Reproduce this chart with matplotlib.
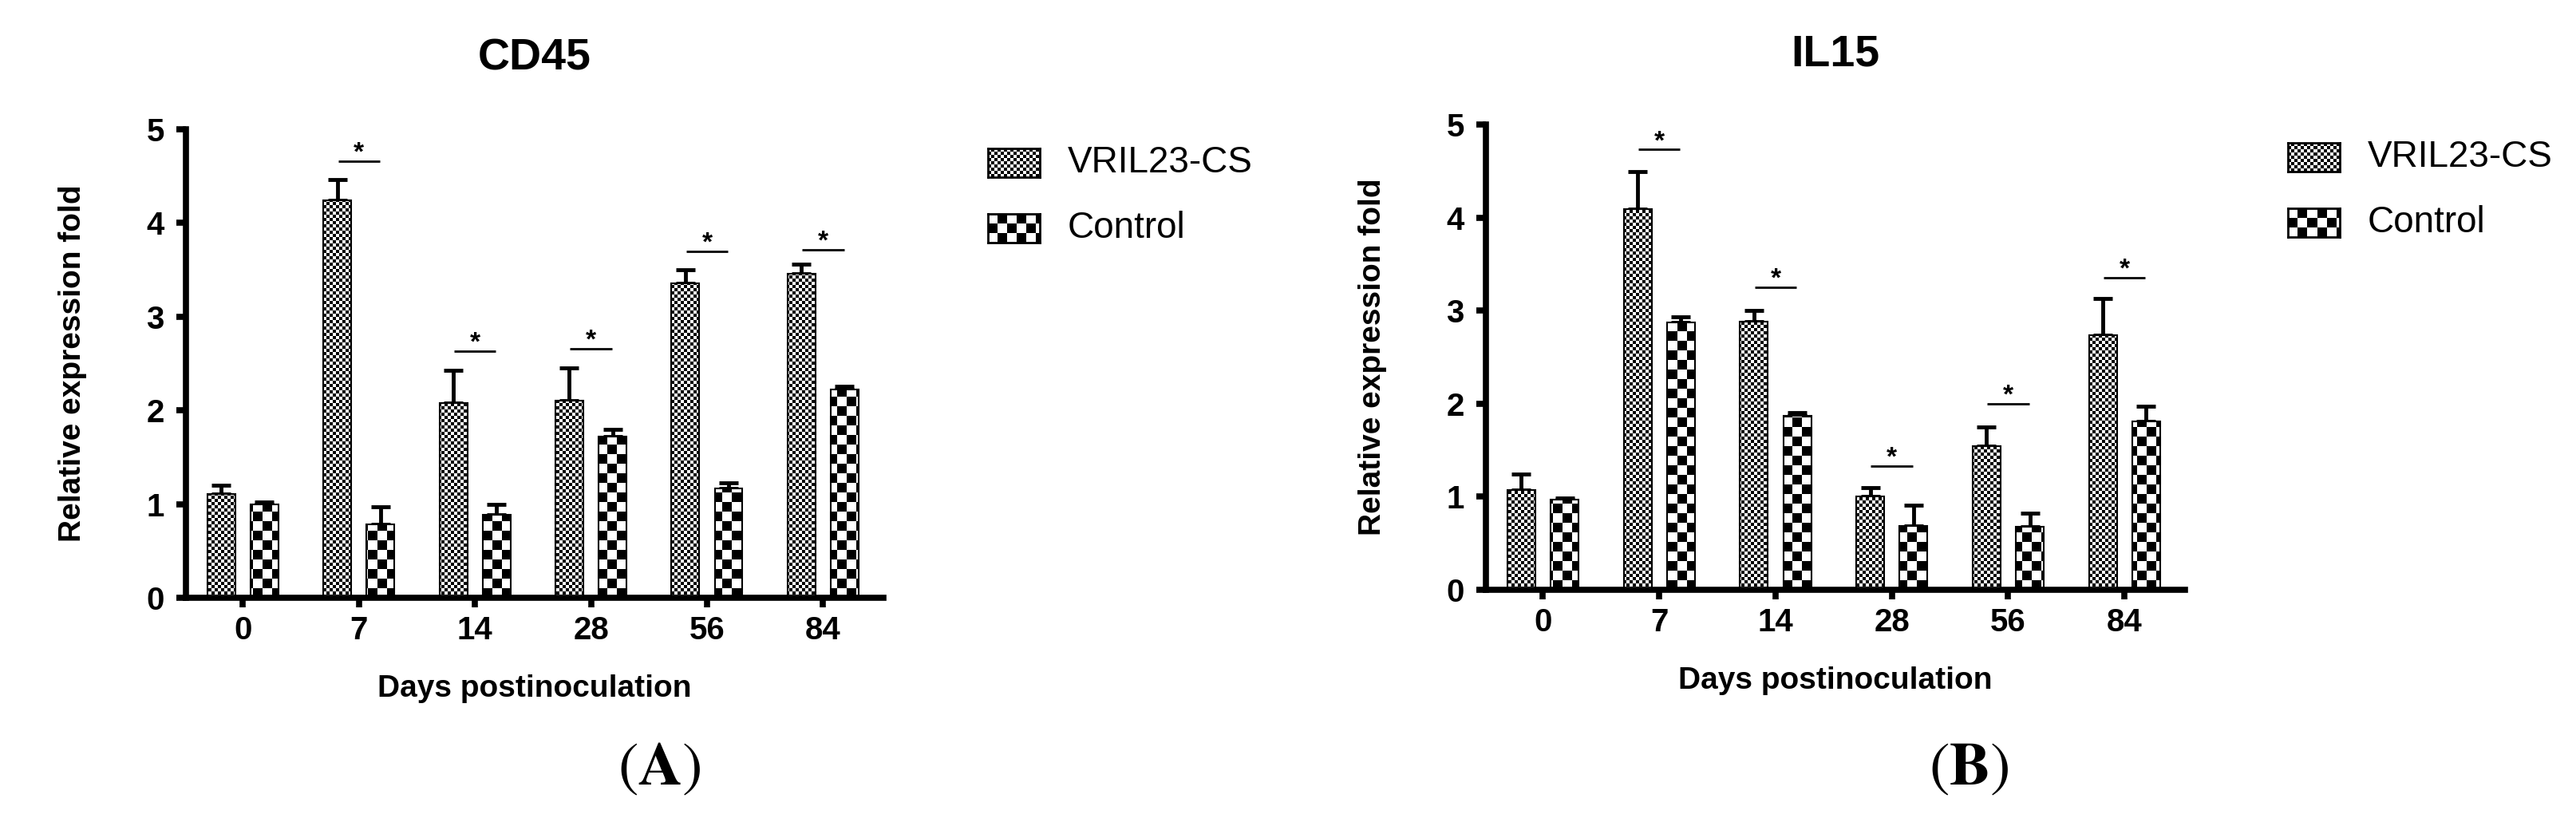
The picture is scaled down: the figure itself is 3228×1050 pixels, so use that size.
import numpy as np
import matplotlib

matplotlib.use("Agg")
import matplotlib.pyplot as plt  # noqa: E402
from matplotlib.path import Path  # noqa: E402

plt.rcParams["font.family"] = ["Liberation Sans", "DejaVu Sans"]
plt.rcParams["mathtext.fontset"] = "stix"

DAYS = ["0", "7", "14", "28", "56", "84"]
SERIES = ["VRIL23-CS", "Control"]

CD45_VRIL = [1.11, 4.24, 2.08, 2.10, 3.36, 3.46]
CD45_VRIL_ERR = [0.09, 0.22, 0.35, 0.35, 0.14, 0.10]
CD45_CTRL = [1.00, 0.78, 0.89, 1.72, 1.17, 2.22]
CD45_CTRL_ERR = [0.02, 0.19, 0.11, 0.08, 0.06, 0.04]
CD45_SIG = [None, 4.66, 2.63, 2.66, 3.70, 3.71]

IL15_VRIL = [1.07, 4.09, 2.88, 1.00, 1.54, 2.74]
IL15_VRIL_ERR = [0.17, 0.40, 0.12, 0.10, 0.21, 0.39]
IL15_CTRL = [0.97, 2.87, 1.87, 0.69, 0.68, 1.81]
IL15_CTRL_ERR = [0.02, 0.06, 0.03, 0.22, 0.14, 0.16]
IL15_SIG = [None, 4.73, 3.25, 1.33, 2.00, 3.35]

W, H, DPI = 3228, 1050, 100
FINE, COARSE = 4, 12          # checker cell size in px (VRIL / Control)
XLIM = (-0.49, 5.52)
OFF, BW = 0.186, 0.24


def checker(h, w, cell):
    iy, ix = np.indices((h, w))
    return ((iy // cell + ix // cell) % 2).astype(float)


def px_rect(x0, y0, x1, y1):
    """pixel box (from top-left) -> figure fraction rect"""
    return [x0 / W, (H - y1) / H, (x1 - x0) / W, (y1 - y0) / H]


def fill_bars(ax, bars, cell, rect):
    wpx, hpx = int(round(rect[2] * W)), int(round(rect[3] * H))
    paths = [b.get_path().transformed(b.get_patch_transform()) for b in bars]
    im = ax.imshow(checker(hpx, wpx, cell), cmap="binary", vmin=0, vmax=1, origin="lower",
                   extent=(XLIM[0], XLIM[1], 0, 5), aspect="auto", interpolation="nearest", zorder=2)
    im.set_clip_path(Path.make_compound_path(*paths), ax.transData)


def panel(fig, rect, title, vril, vril_err, ctrl, ctrl_err, sig, legend_px):
    ax = fig.add_axes(rect)
    x = np.arange(len(DAYS))
    b1 = ax.bar(x - OFF, vril, BW, facecolor="none", edgecolor="black", lw=1.5, zorder=3)
    b2 = ax.bar(x + OFF, ctrl, BW, facecolor="none", edgecolor="black", lw=1.5, zorder=3)
    fill_bars(ax, b1, FINE, rect)
    fill_bars(ax, b2, COARSE, rect)
    for xs, v, e in [(x - OFF, vril, vril_err), (x + OFF, ctrl, ctrl_err)]:
        ax.errorbar(xs, v, yerr=[np.zeros(len(v)), e], fmt="none", ecolor="black",
                    elinewidth=3.5, capsize=8.5, capthick=3.5, zorder=1.5)
    for i, s in enumerate(sig):
        if s is None:
            continue
        ax.hlines(s, i - 0.18, i + 0.18, color="black", lw=2)
        ax.annotate("*", (i, s), xytext=(0, 1), textcoords="offset points", ha="center",
                    va="baseline", fontsize=24, fontweight="bold")
    ax.set_xlim(*XLIM)
    ax.set_ylim(0, 5)
    ax.set_yticks(range(6))
    ax.set_xticks(x)
    ax.set_xticklabels(DAYS)
    for sp in ["top", "right"]:
        ax.spines[sp].set_visible(False)
    for sp in ["left", "bottom"]:
        ax.spines[sp].set_linewidth(5.5)
    ax.tick_params(direction="out", length=8.5, width=5.5, labelsize=29)
    ax.tick_params(axis="y", pad=11)
    ax.tick_params(axis="x", pad=7)
    for lab in ax.get_xticklabels() + ax.get_yticklabels():
        lab.set_fontweight("bold")
    ax.text(0.5, 1.15, title, transform=ax.transAxes, ha="center", va="center",
            fontsize=40, fontweight="bold")
    ax.text(-0.162, 0.5, "Relative expression fold", transform=ax.transAxes, rotation=90,
            ha="center", va="center", fontsize=28, fontweight="bold")
    ax.text(0.5, -0.195, "Days postinoculation", transform=ax.transAxes, ha="center",
            va="center", fontsize=28, fontweight="bold")

    # legend: patterned swatches + labels
    lx, ly0, ly1, tx = legend_px
    for yc, cell, name in [(ly0, FINE, SERIES[0]), (ly1, COARSE, SERIES[1])]:
        r = px_rect(lx, yc - 18, lx + 65, yc + 18)
        sw = fig.add_axes(r)
        sw.imshow(checker(36, 65, cell), cmap="binary", vmin=0, vmax=1, aspect="auto",
                  interpolation="nearest")
        sw.set_xticks([])
        sw.set_yticks([])
        for sp in sw.spines.values():
            sp.set_linewidth(2)
        fig.text(tx / W, (H - yc) / H, name, ha="left", va="center", fontsize=33)
    return ax


fig = plt.figure(figsize=(W / DPI, H / DPI), dpi=DPI)
panel(fig, px_rect(233, 162, 1107, 749), "CD45", CD45_VRIL, CD45_VRIL_ERR, CD45_CTRL,
      CD45_CTRL_ERR, CD45_SIG, (1238, 204, 286, 1338))
panel(fig, px_rect(1862, 156, 2738, 739), "IL15", IL15_VRIL, IL15_VRIL_ERR, IL15_CTRL,
      IL15_CTRL_ERR, IL15_SIG, (2867, 197, 279, 2967))

for xc, letter in [(826, "A"), (2467, "B")]:
    fig.text(xc / W, (H - 965) / H, r"($\mathbf{%s}$)" % letter, ha="center", va="center",
             fontsize=55, fontfamily="STIXGeneral")

fig.savefig("out.png", dpi=DPI)
